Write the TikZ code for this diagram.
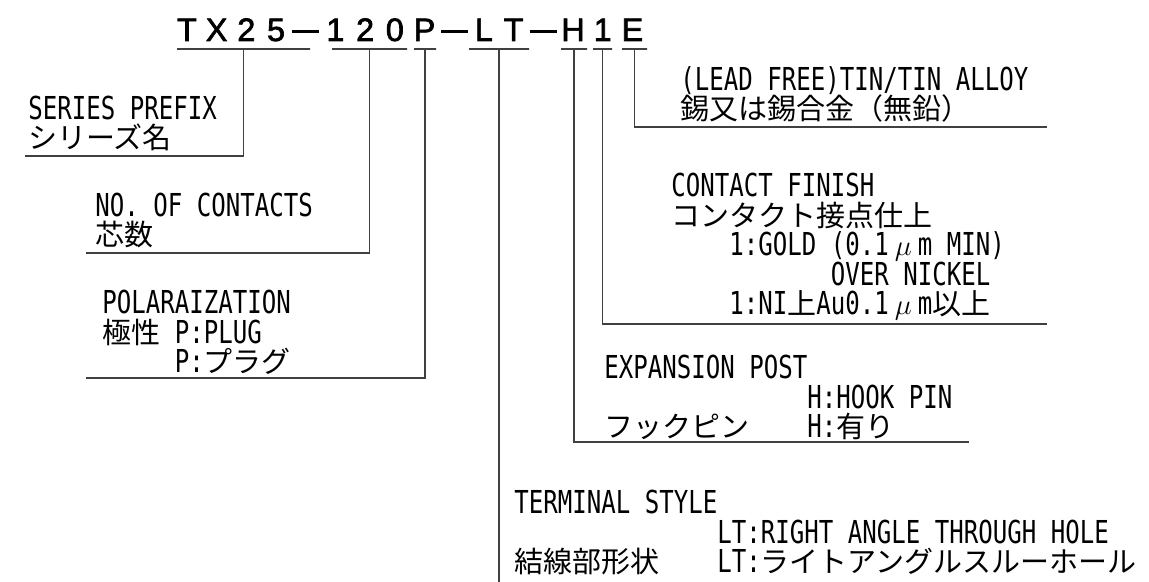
\documentclass[tikz,border=0pt]{standalone}
\usepackage{fontspec}
\usepackage{tikz}
\usetikzlibrary{positioning}
\setmainfont{DejaVu Sans Mono}[FakeStretch=0.762]
\newfontfamily\jpfont{Noto Sans CJK JP}
\newfontfamily\pnfont{Liberation Sans}[FakeBold=2]
\newlength{\hw}\setlength{\hw}{7.25pt}
\newcommand{\jp}[1]{{\jpfont\fontsize{14.5pt}{14.75pt}\selectfont #1}}
\newcommand{\sk}[1]{\hspace*{#1\hw}}
\newcommand{\um}{\makebox[2\hw]{\fontsize{14.5pt}{14.75pt}\selectfont$\mu$}}
% one cell of the part number, and its dash
\newcommand{\cc}[1]{\makebox[14.85pt]{#1}}
\newcommand{\dd}{\makebox[14.85pt]{\rule[4pt]{13.5pt}{1.7pt}}}
\tikzset{%
  % Specifications for style of nodes:
        desc/.style = {anchor=south west, inner sep=0pt, text depth=0pt,
                       align=left, font=\fontsize{15.8pt}{14.75pt}\selectfont},
      partno/.style = {anchor=base west, inner sep=0pt,
                       font=\pnfont\fontsize{16.2pt}{16.2pt}\selectfont},
   fieldline/.style = {draw=black!75, line width=0.75pt, inner sep=0pt,
                       minimum height=0pt},
      leader/.style = {draw=black!75, line width=0.75pt},
}

\begin{document}
\begin{tikzpicture}[x=0.5pt, y=-0.5pt]
  \useasboundingbox (0,0) rectangle (1149,582);
  % Part number with its underlined fields
  \node (code) [partno] at (171.7,41)
        {\cc T\cc X\cc 2\cc 5\dd\cc 1\cc 2\cc 0\cc P\dd\cc L\cc T\dd\cc H\cc 1\cc E};
  \node (series)   [fieldline, minimum width=66.5pt] at (243.5,49) {};
  \node (contacts) [fieldline, minimum width=37.5pt] at (369.5,49) {};
  \node (polar)    [fieldline, minimum width=11pt]   at (425,49)   {};
  \node (terminal) [fieldline, minimum width=30pt]   at (499,49)   {};
  \node (post)     [fieldline, minimum width=13pt]   at (574,49)   {};
  \node (finish)   [fieldline, minimum width=9.5pt]  at (602.5,49) {};
  \node (plating)  [fieldline, minimum width=12.5pt] at (634.5,49) {};
  % Free ends of the leaders
  \coordinate (seriesEnd)   at (25,156);
  \coordinate (contactsEnd) at (86,253);
  \coordinate (polarEnd)    at (86,378);
  \coordinate (platingEnd)  at (1047,127);
  \coordinate (finishEnd)   at (1047,324);
  \coordinate (postEnd)     at (969,442);
  \coordinate (terminalEnd) at (499,582);
  % Descriptions
  \node (seriesTxt) [desc] at (28,149)
        {SERIES PREFIX\\\jp{シリーズ名}};
  \node (contactsTxt) [desc] at (95,246)
        {NO. OF CONTACTS\\\jp{芯数}};
  \node (polarTxt) [desc] at (102,373)
        {POLARAIZATION\\\jp{極性} P:PLUG\\\sk{5}P:\jp{プラグ}};
  \node (platingTxt) [desc] at (680,120)
        {(LEAD FREE)TIN/TIN ALLOY\\\jp{錫又は錫合金（無鉛）}};
  \node (finishTxt) [desc] at (671,315)
        {CONTACT FINISH\\\jp{コンタクト接点仕上}\\
         \sk{4}1:GOLD (0.1\um m MIN)\\\sk{11}OVER NICKEL\\
         \sk{4}1:NI\jp{上}Au0.1\um m\jp{以上}};
  \node (postTxt) [desc] at (604,438)
        {EXPANSION POST\\\sk{14}H:HOOK PIN\\\jp{フックピン}\sk{4}H:\jp{有り}};
  \node (terminalTxt) [desc] at (514,573)
        {TERMINAL STYLE\\\sk{14}LT:RIGHT ANGLE THROUGH HOLE\\
         \jp{結線部形状}\sk{4}LT:\jp{ライトアングルスルーホール}};
  % Leaders from the fields to the descriptions
  \draw[leader] (series.south)   |- (seriesEnd);
  \draw[leader] (contacts.south) |- (contactsEnd);
  \draw[leader] (polar.south)    |- (polarEnd);
  \draw[leader] (plating.south)  |- (platingEnd);
  \draw[leader] (finish.south)   |- (finishEnd);
  \draw[leader] (post.south)     |- (postEnd);
  \draw[leader] (terminal.south) -- (terminalEnd);
\end{tikzpicture}
\end{document}
